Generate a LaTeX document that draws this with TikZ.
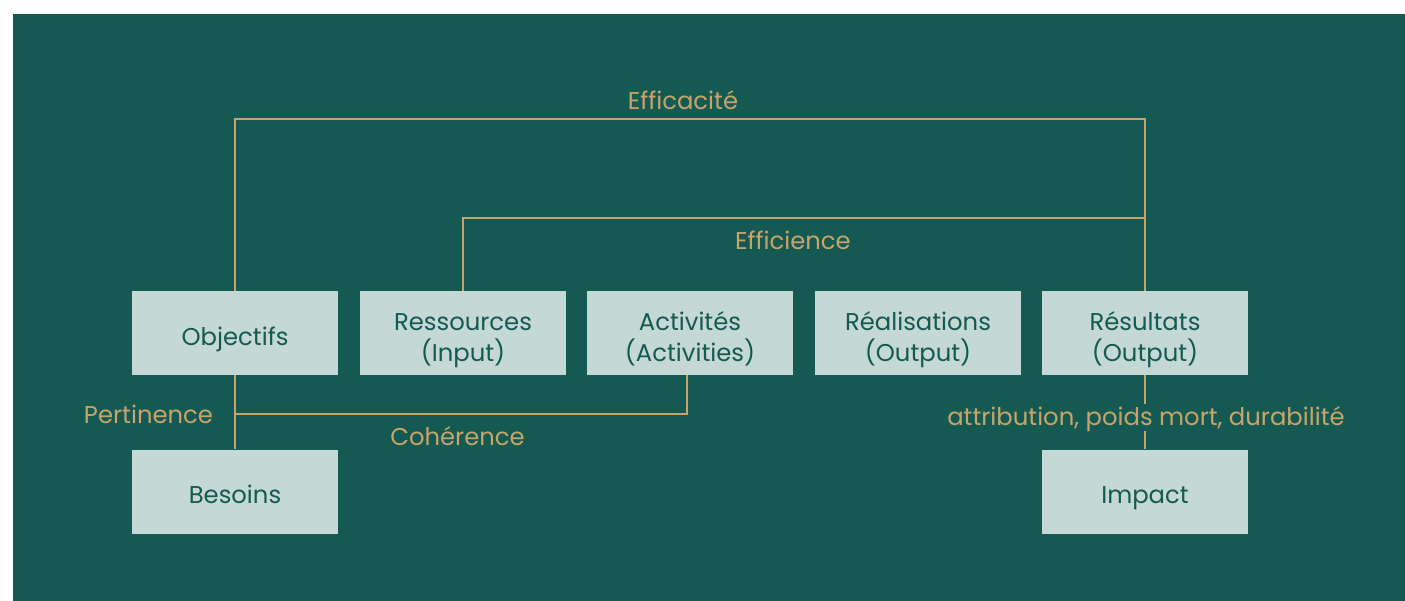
\documentclass[tikz,border=0pt]{standalone}
\usepackage{fontspec}
\setmainfont{Poppins}
\definecolor{bg}{HTML}{155A52}
\definecolor{boxfill}{HTML}{C4D8D5}
\definecolor{gold}{HTML}{C8A46A}
\newcommand\oneline[1]{\smash{\raisebox{-12.3pt}{#1}}}
\newcommand\twoline[2]{\smash{\raisebox{2.3pt}{\renewcommand\arraystretch{1}\begin{tabular}[t]{@{}c@{}}#1\\#2\end{tabular}}}}
\begin{document}
\begin{tikzpicture}[x=1pt,y=-1pt,
  box/.style={draw=none,fill=boxfill,minimum width=206pt,minimum height=84pt,inner sep=0pt,
    text height=0pt,text depth=0pt,
    text=bg,align=center,font=\fontsize{24.3}{28.5}\selectfont},
  conn/.style={draw=gold,line width=1.4pt},
  lbl/.style={text=gold,font=\fontsize{24.3}{28.5}\selectfont,inner sep=1pt,anchor=base}]
\useasboundingbox (0,0) rectangle (1405,601);
\fill[white] (0,0) rectangle (1405,601);
\fill[bg] (13,14) rectangle (1405,601);
% boxes
\node[box] (obj) at (235,333) {\oneline{Objectifs}};
\node[box] (ress) at (463,333) {\twoline{Ressources}{(Input)}};
\node[box] (act) at (690,333) {\twoline{Activités}{(Activities)}};
\node[box] (real) at (918,333) {\twoline{Réalisations}{(Output)}};
\node[box] (resu) at (1145,333) {\twoline{Résultats}{(Output)}};
\node[box] (bes) at (235,491.5) {\oneline{Besoins}};
\node[box] (imp) at (1145,491.5) {\oneline{Impact}};
% labels
\node[lbl] (lEff) at (683,109.3) {Efficacité};
\node[lbl] (lEffi) at (793,249.3) {Efficience};
\node[lbl] (lPer) at (148.5,423) {Pertinence};
\node[lbl] (lCoh) at (457.5,445) {Cohérence};
\node[lbl,inner sep=0pt,text height=21pt,text depth=6pt] (lAttr) at (1146,425) {attribution, poids mort, durabilité};
% coordinates
\coordinate (kEff) at (1145,119);
\coordinate (kEffi) at (1145,218);
\coordinate (kCoh) at (235,414);
\coordinate (kAct) at (687,375);
% connectors
\draw[conn] (obj.north) |- (kEff) -- (resu.north);
\draw[conn] (ress.north) |- (kEffi);
\draw[conn] (obj.south) -- (bes.north);
\draw[conn] (kCoh) -| (kAct);
\draw[conn] (resu.south) -- (resu.south |- lAttr.north);
\draw[conn] (imp.north |- lAttr.south) -- (imp.north);
\end{tikzpicture}
\end{document}
